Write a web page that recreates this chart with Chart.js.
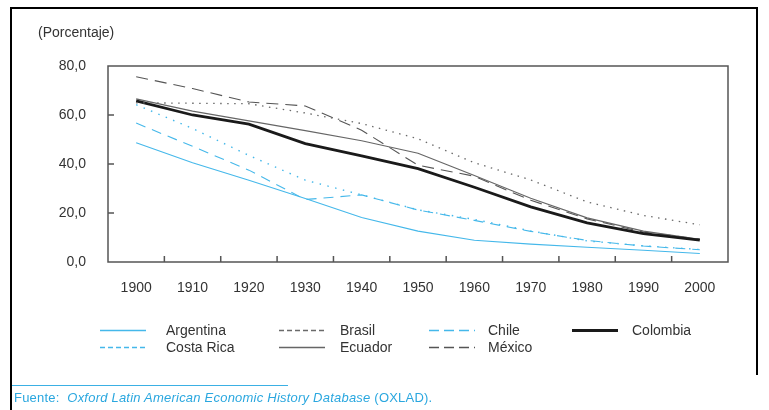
<!DOCTYPE html>
<html>
<head>
<meta charset="utf-8">
<script src="https://cdn.jsdelivr.net/npm/chart.js@4.4.1/dist/chart.umd.min.js"></script>
<style>
  body { margin: 0; background: #fff; font-family: "Liberation Sans", Arial, sans-serif; }
  #wrap { position: relative; width: 769px; height: 410px; overflow: hidden; }
  #chart { position: absolute; left: 0; top: 0; }
  .frame { position: absolute; background: #000; }
  #unit { position: absolute; left: 38px; top: 24px; font-size: 14px; color: #333; }
  .lg { position: absolute; height: 16px; font-size: 14px; line-height: 16px; color: #333; white-space: nowrap; }
  .lg svg { position: absolute; left: 0; top: 0; }
  .lg span { position: absolute; top: 0; }
  #srcline { position: absolute; left: 12px; top: 385px; width: 276px; height: 1px; background: #3bb0e4; }
  #src { position: absolute; left: 14px; top: 390px; font-size: 13px; letter-spacing: 0.22px; color: #2aa7df; white-space: nowrap; }
</style>
</head>
<body>
<div id="wrap">
  <canvas id="chart" width="769" height="410"></canvas>
  <div class="frame" style="left:10px; top:7px; width:2px; height:403px;"></div>
  <div class="frame" style="left:10px; top:7px; width:748px; height:2px;"></div>
  <div class="frame" style="left:756px; top:7px; width:2px; height:368px;"></div>
  <div id="unit">(Porcentaje)</div>
  <div id="legend"></div>
  <div id="srcline"></div>
  <div id="src">Fuente:&nbsp; <i>Oxford Latin American Economic History Database</i> (OXLAD).</div>
</div>
<script>
// Data
const years = ['1900', '1910', '1920', '1930', '1940', '1950', '1960', '1970', '1980', '1990', '2000'];
const argentina = [48.7, 40.5, 33.4, 25.9, 18.2, 12.6, 8.9, 7.3, 6.0, 4.8, 3.5];
const brasil = [65.0, 64.8, 64.6, 60.8, 56.5, 50.3, 40.5, 33.5, 24.5, 19.0, 15.2];
const chile = [56.7, 47.2, 37.5, 25.5, 27.4, 21.2, 17.0, 12.5, 8.8, 6.5, 5.0];
const colombia = [65.8, 60.0, 56.3, 48.3, 43.3, 38.1, 30.5, 22.5, 16.0, 11.6, 8.9];
const costaRica = [64.2, 54.5, 43.5, 33.4, 27.4, 21.3, 17.4, 12.7, 8.6, 6.6, 5.1];
const ecuador = [66.6, 61.6, 57.6, 53.6, 49.5, 44.4, 35.3, 26.0, 18.0, 12.6, 9.2];
const mexico = [75.6, 70.8, 65.3, 63.7, 53.8, 39.5, 35.0, 25.2, 17.6, 12.2, 9.4];

const blue = '#45b8ea';

const series = [
  { label: 'Argentina', data: argentina, color: blue, width: 1.1, dash: [], legendDash: [] },
  { label: 'Brasil', data: brasil, color: '#6a6a6a', width: 1.3, dash: [1.5, 5.5], legendDash: [5, 3] },
  { label: 'Chile', data: chile, color: blue, width: 1.1, dash: [10, 7], legendDash: [10, 5] },
  { label: 'Colombia', data: colombia, color: '#1a1a1a', width: 2.8, dash: [], legendDash: [] },
  { label: 'Costa Rica', data: costaRica, color: blue, width: 1.4, dash: [1.5, 6.5], legendDash: [5, 3] },
  { label: 'Ecuador', data: ecuador, color: '#666', width: 1.2, dash: [], legendDash: [] },
  { label: 'México', data: mexico, color: '#555', width: 1.1, dash: [12, 7], legendDash: [10, 5] }
];

// legend layout (4 columns, 2 rows)
const legendCols = [100, 279, 429, 572];
const legendTextOffset = [66, 61, 59, 60];
const legendRows = [322, 339];

Chart.defaults.font.family = "'Liberation Sans', Arial, sans-serif";
Chart.defaults.color = '#333';

// plot box and inward tick marks
const axisBox = {
  id: 'axisBox',
  beforeDatasetsDraw(chart) {
    const { ctx, chartArea: a, scales: { x, y } } = chart;
    ctx.save();
    ctx.strokeStyle = '#555';
    ctx.lineWidth = 1.5;
    ctx.strokeRect(a.left, a.top, a.right - a.left, a.bottom - a.top);
    ctx.beginPath();
    y.ticks.forEach(t => {
      if (t.value > y.min && t.value < y.max) {
        const py = y.getPixelForValue(t.value);
        ctx.moveTo(a.left, py);
        ctx.lineTo(a.left + 6, py);
      }
    });
    for (let i = 0; i < years.length - 1; i++) {
      const px = (x.getPixelForValue(i) + x.getPixelForValue(i + 1)) / 2;
      ctx.moveTo(px, a.bottom);
      ctx.lineTo(px, a.bottom - 6);
    }
    ctx.stroke();
    ctx.restore();
  }
};

new Chart(document.getElementById('chart'), {
  type: 'line',
  data: {
    labels: years,
    datasets: series.map(s => ({
      label: s.label,
      data: s.data,
      borderColor: s.color,
      borderWidth: s.width,
      borderDash: s.dash,
      pointRadius: 0,
      tension: 0,
      fill: false
    }))
  },
  options: {
    responsive: false,
    devicePixelRatio: 1,
    animation: false,
    layout: { padding: { left: 0, top: 66, right: 41, bottom: 0 } },
    plugins: {
      legend: { display: false },
      tooltip: { enabled: false }
    },
    scales: {
      x: {
        offset: true,
        grid: { display: false, drawTicks: false },
        border: { display: false },
        ticks: { padding: 18, font: { size: 14 }, color: '#333', maxRotation: 0 },
        afterFit(scale) { scale.height = 148; }
      },
      y: {
        min: 0,
        max: 80,
        grid: { display: false, drawTicks: false },
        border: { display: false },
        ticks: {
          stepSize: 20,
          padding: 22,
          font: { size: 14 },
          color: '#333',
          callback: v => v.toFixed(1).replace('.', ',')
        },
        afterFit(scale) { scale.width = 108; }
      }
    }
  },
  plugins: [axisBox]
});

// custom legend laid out in columns
const legend = document.getElementById('legend');
series.forEach((s, i) => {
  const col = i % 4;
  const row = Math.floor(i / 4);
  const item = document.createElement('div');
  item.className = 'lg';
  item.style.left = legendCols[col] + 'px';
  item.style.top = legendRows[row] + 'px';
  item.innerHTML = `
    <svg width="50" height="16"><line x1="0" y1="8.5" x2="46" y2="8.5" stroke="${s.color}"
      stroke-width="${s.width > 2 ? 3 : 1.3}" stroke-dasharray="${s.legendDash.join(' ')}"/></svg>
    <span style="left:${legendTextOffset[col]}px">${s.label}</span>
  `;
  legend.appendChild(item);
});
</script>
</body>
</html>
